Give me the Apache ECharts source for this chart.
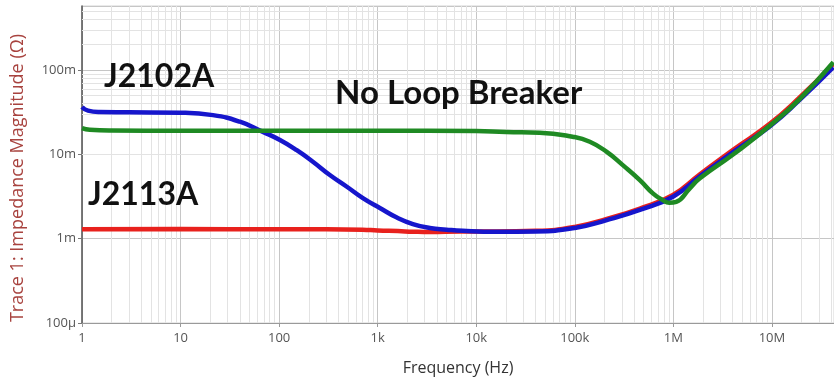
<!DOCTYPE html>
<html>
<head>
<meta charset="utf-8">
<title>Impedance magnitude</title>
<script src="https://cdn.jsdelivr.net/npm/echarts@6/dist/echarts.min.js"></script>
<style>
  html, body { margin: 0; padding: 0; background: #fff; }
  #chart { width: 834px; height: 382px; }
</style>
</head>
<body>
<div id="chart"></div>
<script>
// axis ticks
const xTickValues = [1, 10, 100, 1e3, 1e4, 1e5, 1e6, 1e7];
const xTickLabels = ['1', '10', '100', '1k', '10k', '100k', '1M', '10M'];
const yTickValues = [1e-4, 1e-3, 1e-2, 1e-1];
const yTickLabels = ['100\u00b5', '1m', '10m', '100m'];

// J2113A (red)
const freqRed = [1, 10, 100, 300, 700, 1000, 1600, 2300, 3400, 7000, 16000, 40000, 100000, 211000, 457000, 990000, 1860000, 4100000, 9500000, 19000000, 42000000];
const zRed = [0.00129, 0.0013, 0.00129, 0.00129, 0.00128, 0.00125, 0.00123, 0.00121, 0.0012, 0.00122, 0.00122, 0.00124, 0.00138, 0.00172, 0.00228, 0.0033, 0.0058, 0.0115, 0.023, 0.047, 0.118];

// J2102A (blue)
const freqBlue = [1, 1.15, 1.5, 3, 9.86, 21.3, 40, 68.5, 102, 151, 220, 327, 487, 708, 1052, 1566, 2275, 3381, 5000, 7310, 16200, 40000, 100000, 211000, 457000, 990000, 1860000, 4100000, 9500000, 19000000, 42000000];
const zBlue = [0.0365, 0.033, 0.0318, 0.0316, 0.0312, 0.0292, 0.0244, 0.0185, 0.0148, 0.0112, 0.00818, 0.00569, 0.00413, 0.00303, 0.00231, 0.00178, 0.00149, 0.00134, 0.00128, 0.00124, 0.00121, 0.00122, 0.00134, 0.00166, 0.00219, 0.00315, 0.0055, 0.0108, 0.0215, 0.044, 0.108];

// No Loop Breaker (green)
const freqGreen = [1, 1.2, 2, 10, 100, 1000, 10000, 20000, 44000, 95000, 142000, 211000, 307000, 457000, 620000, 780000, 910000, 1070000, 1470000, 1860000, 4100000, 9500000, 19000000, 42000000];
const zGreen = [0.0205, 0.0196, 0.0192, 0.0191, 0.0191, 0.0191, 0.0189, 0.0184, 0.0181, 0.0162, 0.0141, 0.0107, 0.00746, 0.00496, 0.00345, 0.00287, 0.00267, 0.00274, 0.00396, 0.0052, 0.0101, 0.0218, 0.045, 0.124];

const xMin = 1, xMax = Math.pow(10, 7.63);
const yMin = 1e-4, yMax = Math.pow(10, -0.24);

function pairs(xs, ys) {
  return xs.map((x, i) => [x, ys[i]]);
}

// minor log grid (2..9 of every decade)
let minorLines = [];
for (let e = 0; e <= 7; e++) {
  for (let d = 2; d <= 9; d++) {
    let v = d * Math.pow(10, e);
    if (v < xMax) minorLines.push({ xAxis: v });
  }
}
for (let e = -4; e <= -1; e++) {
  for (let d = 2; d <= 9; d++) {
    let v = d * Math.pow(10, e);
    if (v < yMax) minorLines.push({ yAxis: v });
  }
}

function tickLabel(values, labels) {
  return function (v) {
    for (let i = 0; i < values.length; i++) {
      if (Math.abs(Math.log10(v) - Math.log10(values[i])) < 1e-6) return labels[i];
    }
    return '';
  };
}

let myChart = echarts.init(document.getElementById('chart'));

myChart.setOption({
  animation: false,
  backgroundColor: '#fff',
  textStyle: { fontFamily: 'Open Sans' },
  grid: {
    left: 82,
    right: 0,
    top: 6,
    bottom: 59,
    show: true,
    borderColor: '#d4d4d4',
    borderWidth: 1,
    backgroundColor: '#fff',
  },
  xAxis: {
    type: 'log',
    logBase: 10,
    min: xMin,
    max: xMax,
    splitNumber: 8,
    name: 'Frequency (Hz)',
    nameLocation: 'middle',
    nameGap: 37,
    nameTextStyle: { color: '#333', fontSize: 16, fontFamily: 'Open Sans' },
    axisLine: { show: true, lineStyle: { color: '#9a9a9a', width: 1 } },
    axisTick: { show: true, length: 4, lineStyle: { color: '#9a9a9a' } },
    axisLabel: {
      color: '#555',
      fontSize: 13,
      margin: 9,
      showMaxLabel: false,
      formatter: tickLabel(xTickValues, xTickLabels),
    },
    splitLine: { show: true, lineStyle: { color: '#c6c6c6', width: 1 } },
  },
  yAxis: {
    type: 'log',
    logBase: 10,
    min: yMin,
    max: yMax,
    splitNumber: 4,
    axisLine: { show: true, lineStyle: { color: '#555', width: 1.5 } },
    axisTick: { show: true, length: 4, lineStyle: { color: '#777' } },
    axisLabel: {
      color: '#555',
      fontSize: 13,
      margin: 6,
      showMaxLabel: false,
      formatter: tickLabel(yTickValues, yTickLabels),
    },
    splitLine: { show: true, lineStyle: { color: '#c6c6c6', width: 1 } },
  },
  graphic: [
    {
      type: 'text',
      x: 18,
      y: 178,
      rotation: Math.PI / 2,
      style: {
        text: 'Trace 1: Impedance Magnitude (\u03a9)',
        fill: '#a8433f',
        font: '18px "Open Sans"',
        textAlign: 'center',
        textVerticalAlign: 'middle',
      },
    },
    {
      type: 'text',
      x: 104,
      y: 77,
      style: { text: 'J2102A', fill: '#111', font: 'bold 32px Lato', textVerticalAlign: 'middle' },
      z: 10,
    },
    {
      type: 'text',
      x: 335,
      y: 93,
      style: { text: 'No Loop Breaker', fill: '#111', font: 'bold 33px Lato', textVerticalAlign: 'middle' },
      z: 10,
    },
    {
      type: 'text',
      x: 88,
      y: 195,
      style: { text: 'J2113A', fill: '#111', font: 'bold 32px Lato', textVerticalAlign: 'middle' },
      z: 10,
    },
  ],
  series: [
    {
      name: 'grid',
      type: 'line',
      data: [],
      z: 1,
      silent: true,
      markLine: {
        silent: true,
        z: 1,
        symbol: 'none',
        label: { show: false },
        lineStyle: { color: '#e3e3e3', width: 1, type: 'solid' },
        data: minorLines,
      },
    },
    {
      name: 'J2113A',
      type: 'line',
      data: pairs(freqRed, zRed),
      showSymbol: false,
      smooth: 0.5,
      z: 3,
      lineStyle: { color: '#e8211d', width: 4.5 },
    },
    {
      name: 'J2102A',
      type: 'line',
      data: pairs(freqBlue, zBlue),
      showSymbol: false,
      smooth: 0.5,
      z: 4,
      lineStyle: { color: '#1616cc', width: 4.5 },
    },
    {
      name: 'No Loop Breaker',
      type: 'line',
      data: pairs(freqGreen, zGreen),
      showSymbol: false,
      smooth: 0.5,
      z: 5,
      lineStyle: { color: '#1f8a23', width: 4.5 },
    },
  ],
});

window.addEventListener('resize', function () {
  myChart.resize();
});
</script>
</body>
</html>
